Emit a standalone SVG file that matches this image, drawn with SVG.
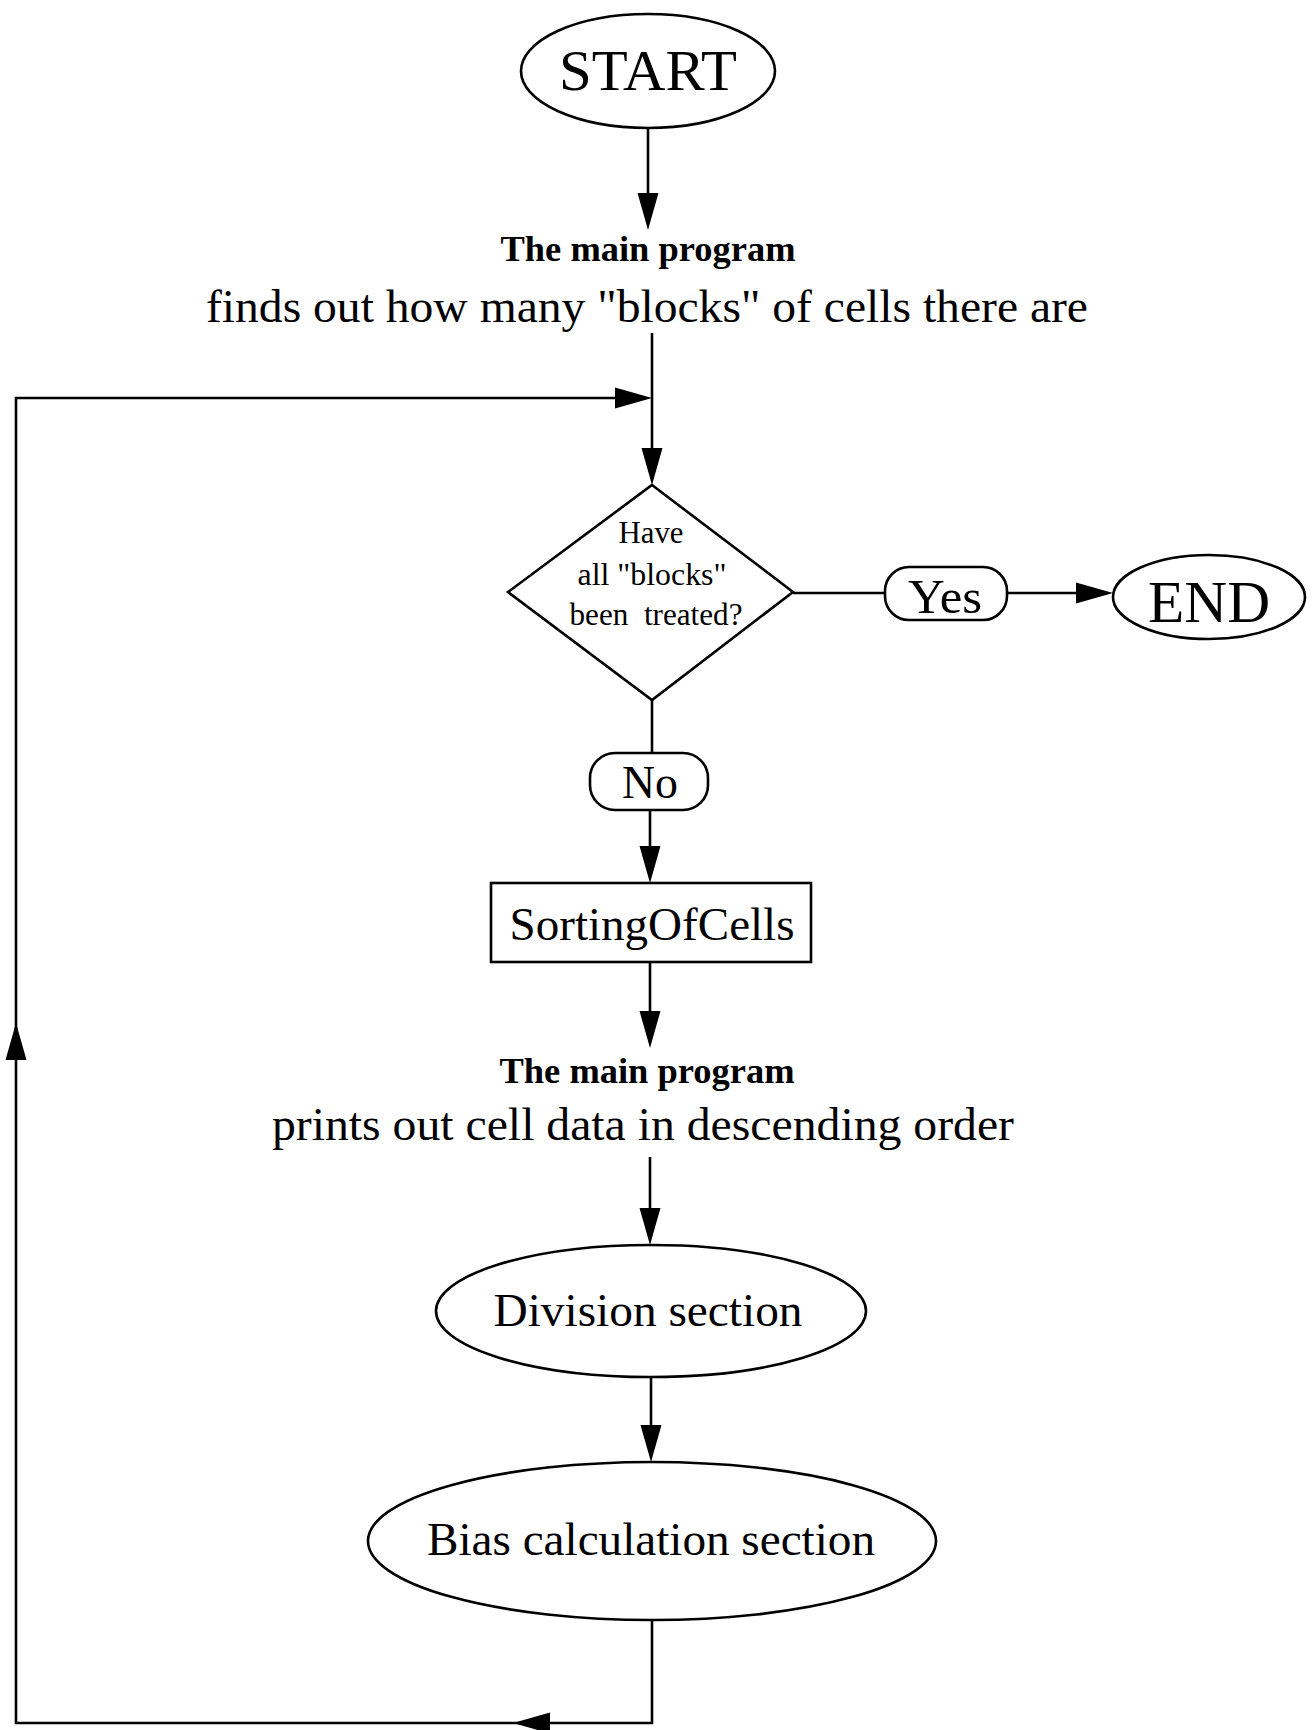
<svg xmlns="http://www.w3.org/2000/svg" xmlns:xlink="http://www.w3.org/1999/xlink" width="1314" height="1730" viewBox="0 0 1314 1730">
<style>
.shape{fill:#fff;stroke:#000;stroke-width:2.6}
.line{fill:none;stroke:#000;stroke-width:2.6}
.t{font-family:"Liberation Serif","Times New Roman",serif;fill:#000;text-anchor:middle}
.b{font-weight:bold}
</style>
<defs>
<path id="ah" d="M0,0 L-37,-10.5 L-37,10.5 Z" fill="#000"/>
</defs>
<rect width="1314" height="1730" fill="#fff"/>
<g id="connectors">
<line class="line" x1="648" y1="128" x2="648" y2="200"/>
<use xlink:href="#ah" transform="translate(648,230) rotate(90)"/>
<line class="line" x1="652" y1="333" x2="652" y2="455"/>
<use xlink:href="#ah" transform="translate(652,485) rotate(90)"/>
<line class="line" x1="793" y1="593" x2="885" y2="593"/>
<line class="line" x1="1007" y1="593" x2="1080" y2="593"/>
<use xlink:href="#ah" transform="translate(1113,593)"/>
<line class="line" x1="652" y1="700" x2="652" y2="753"/>
<line class="line" x1="650" y1="810" x2="650" y2="850"/>
<use xlink:href="#ah" transform="translate(650,883) rotate(90)"/>
<line class="line" x1="650" y1="962" x2="650" y2="1015"/>
<use xlink:href="#ah" transform="translate(650,1048) rotate(90)"/>
<line class="line" x1="650" y1="1157" x2="650" y2="1212"/>
<use xlink:href="#ah" transform="translate(650,1245) rotate(90)"/>
<line class="line" x1="651" y1="1377" x2="651" y2="1430"/>
<use xlink:href="#ah" transform="translate(651,1462) rotate(90)"/>
<polyline class="line" points="652,1620 652,1723 16,1723 16,398 630,398"/>
<use xlink:href="#ah" transform="translate(513,1723) rotate(180)"/>
<use xlink:href="#ah" transform="translate(16,1023) rotate(-90)"/>
<use xlink:href="#ah" transform="translate(652,398)"/>
</g>
<g id="start">
<ellipse class="shape" cx="648" cy="71" rx="127" ry="57"/>
<text class="t" x="648" y="90" font-size="56" textLength="178" lengthAdjust="spacingAndGlyphs">START</text>
</g>
<g id="main1">
<text class="t b" x="648" y="261" font-size="36" textLength="295" lengthAdjust="spacingAndGlyphs">The main program</text>
<text class="t" x="647" y="322" font-size="47" textLength="882" lengthAdjust="spacingAndGlyphs">finds out how many "blocks" of cells there are</text>
</g>
<g id="decision">
<polygon class="shape" points="652,485 793,592 652,700 508,592"/>
<text class="t" x="651" y="543" font-size="31" textLength="65" lengthAdjust="spacingAndGlyphs">Have</text>
<text class="t" x="652" y="585" font-size="31" textLength="149" lengthAdjust="spacingAndGlyphs">all "blocks"</text>
<text class="t" x="656" y="625" font-size="31" textLength="173" lengthAdjust="spacingAndGlyphs" xml:space="preserve">been  treated?</text>
</g>
<g id="yes">
<rect class="shape" x="885" y="567" width="122" height="53" rx="24"/>
<text class="t" x="945" y="613" font-size="48" textLength="74" lengthAdjust="spacingAndGlyphs">Yes</text>
</g>
<g id="end">
<ellipse class="shape" cx="1209" cy="597" rx="96" ry="42"/>
<text class="t" x="1209" y="622" font-size="60" textLength="122" lengthAdjust="spacingAndGlyphs">END</text>
</g>
<g id="no">
<rect class="shape" x="590" y="753" width="118" height="57" rx="25"/>
<text class="t" x="650" y="798" font-size="46" textLength="56" lengthAdjust="spacingAndGlyphs">No</text>
</g>
<g id="sorting">
<rect class="shape" x="491" y="883" width="320" height="79"/>
<text class="t" x="652" y="940" font-size="47" textLength="285" lengthAdjust="spacingAndGlyphs">SortingOfCells</text>
</g>
<g id="main2">
<text class="t b" x="647" y="1083" font-size="36" textLength="295" lengthAdjust="spacingAndGlyphs">The main program</text>
<text class="t" x="643" y="1140" font-size="47" textLength="742" lengthAdjust="spacingAndGlyphs">prints out cell data in descending order</text>
</g>
<g id="division">
<ellipse class="shape" cx="651" cy="1311" rx="215" ry="66"/>
<text class="t" x="648" y="1326" font-size="47" textLength="309" lengthAdjust="spacingAndGlyphs">Division section</text>
</g>
<g id="bias">
<ellipse class="shape" cx="652" cy="1541" rx="284" ry="79"/>
<text class="t" x="651" y="1555" font-size="47" textLength="448" lengthAdjust="spacingAndGlyphs">Bias calculation section</text>
</g>
</svg>
